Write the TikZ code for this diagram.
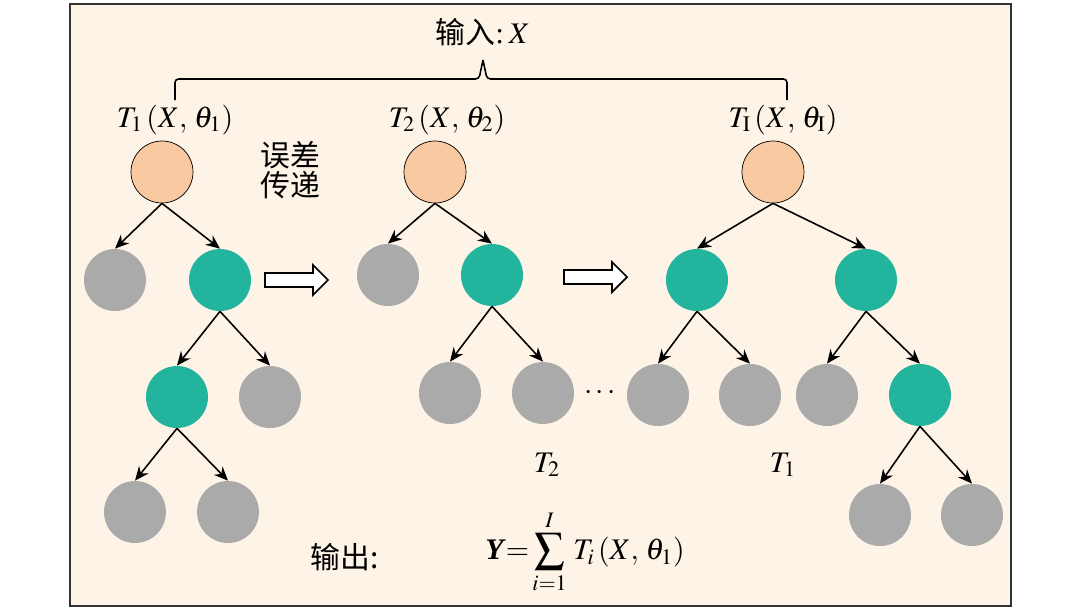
\documentclass[tikz,border=0pt]{standalone}
\usepackage{mathptmx}
\usepackage{fontspec}
\setmainfont{Liberation Serif}
\newfontfamily\cjk{Noto Sans CJK SC}
\usetikzlibrary{arrows.meta}

\definecolor{paper}{RGB}{253,243,230}
\definecolor{rootfill}{RGB}{249,201,162}
\definecolor{splitfill}{RGB}{34,180,156}
\definecolor{leaffill}{RGB}{170,170,170}

\begin{document}
\begin{tikzpicture}[
    x=0.02cm, y=-0.02cm,
    every node/.style={font=\fontsize{17}{20}\selectfont},
    % tree nodes
    rootnode/.style={circle, draw=black, thin, fill=rootfill, minimum size=1.24cm, inner sep=0pt},
    splitnode/.style={circle, fill=splitfill, minimum size=1.24cm, inner sep=0pt},
    leafnode/.style={circle, fill=leaffill, minimum size=1.24cm, inner sep=0pt},
    link/.style={-{Stealth[length=2.8mm, width=2.4mm]}, line width=0.9pt},
    hollow/.style={draw=black, line width=1pt, fill=white, line join=miter}
]

\useasboundingbox (0,0) rectangle (1080,609);

% Background panel
\draw[fill=paper, line width=1.1pt, draw=black!80] (70,4) rectangle (1011,606);

% Input and brace
\node (input) at (483,32) {{\cjk 输入}:\,$X$};
\coordinate (bl) at (175,100);
\coordinate (br) at (787,100);
\coordinate (bc) at (483,60);
\draw[line width=0.9pt, rounded corners=2pt] (bl) -- (175,79) -- (479,79) -- (bc);
\draw[line width=0.9pt, rounded corners=2pt] (br) -- (787,79) -- (487,79) -- (bc);

% Tree labels
\node (lab1) at (175,120) {$T_1\,(X,\,\theta_1)$};
\node (lab2) at (447,120) {$T_2\,(X,\,\theta_2)$};
\node (lab3) at (783,120) {$T_{\mathrm{I}}\,(X,\,\theta_{\mathrm{I}})$};
\node[align=center, font=\fontsize{17}{30}\selectfont\cjk] (err) at (290,170) {误差\\[-13pt]传递};

% Tree 1
\node[rootnode] (a1) at (162,172) {};
\node[leafnode] (a2) at (115,280) {};
\node[splitnode] (a3) at (220,280) {};
\node[splitnode] (a4) at (177,397) {};
\node[leafnode] (a5) at (270,397) {};
\node[leafnode] (a6) at (135,512) {};
\node[leafnode] (a7) at (228,512) {};

% Tree 2
\node[rootnode] (b1) at (435,172) {};
\node[leafnode] (b2) at (388,275) {};
\node[splitnode] (b3) at (492,275) {};
\node[leafnode] (b4) at (450,393) {};
\node[leafnode] (b5) at (543,393) {};

% Tree I
\node[rootnode] (c1) at (773,172) {};
\node[splitnode] (c2) at (697,280) {};
\node[splitnode] (c3) at (866,280) {};
\node[leafnode] (c4) at (658,395) {};
\node[leafnode] (c5) at (750,395) {};
\node[leafnode] (c6) at (827,395) {};
\node[splitnode] (c7) at (920,395) {};
\node[leafnode] (c8) at (880,515) {};
\node[leafnode] (c9) at (972,515) {};

% Edges
\foreach \p/\c in {a1/a2, a1/a3, a3/a4, a3/a5, a4/a6, a4/a7,
                   b1/b2, b1/b3, b3/b4, b3/b5,
                   c1/c2, c1/c3, c2/c4, c2/c5, c3/c6, c3/c7, c7/c8, c7/c9}
    \draw[link] (\p.south) -- (\c.north);

% Hollow arrows between trees
\foreach \cx/\cy in {296/280, 595/277}
    \draw[hollow, shift={(\cx,\cy)}] (-31,-7) -- (17,-7) -- (17,-15) -- (32,0)
        -- (17,15) -- (17,7) -- (-31,7) -- cycle;

\node (dots) at (600,393) {$\cdots$};
\node (sub2) at (547,465) {$T_2$};
\node (sub1) at (783,465) {$T_1$};

% Output
\node[font=\fontsize{17}{20}\selectfont\cjk] (output) at (345,557) {输出:};
\node (sum) at (585,552) {$\textbf{\textit{Y}}{=}\displaystyle\sum_{i=1}^{I}\, T_i\,(X,\,\theta_1)$};

\end{tikzpicture}
\end{document}
